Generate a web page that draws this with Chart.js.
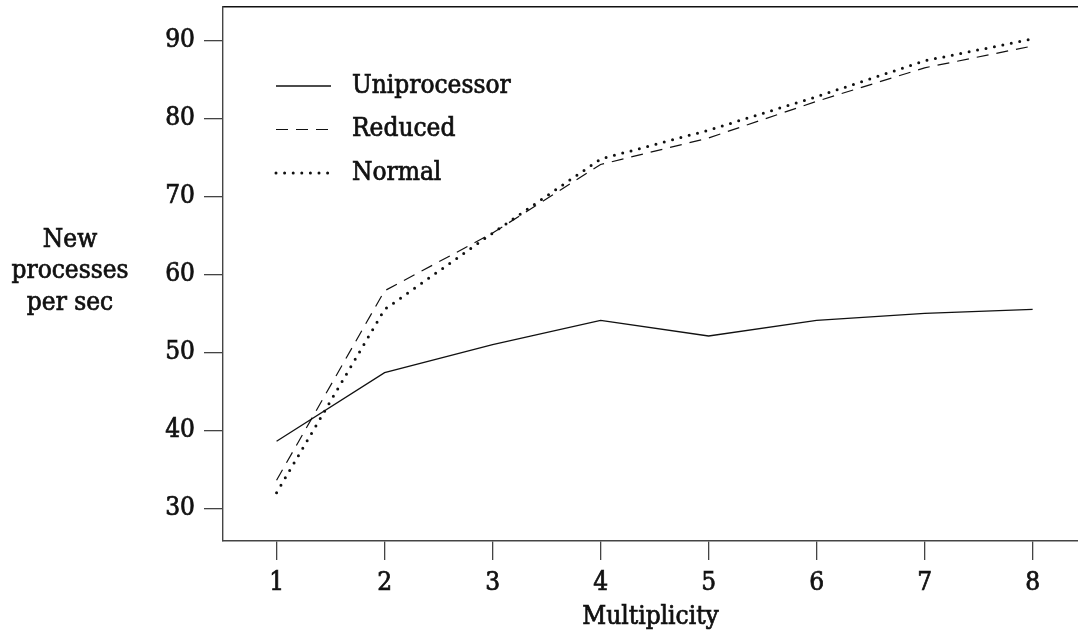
<!DOCTYPE html>
<html>
<head>
<meta charset="utf-8">
<script src="https://cdn.jsdelivr.net/npm/chart.js@4.4.1/dist/chart.umd.min.js"></script>
<style>
  html, body { margin: 0; padding: 0; background: #fff; }
  canvas { display: block; }
</style>
</head>
<body>
<canvas id="myChart" width="1078" height="636"></canvas>
<script>
const multiplicity = [1, 2, 3, 4, 5, 6, 7, 8];
const uniprocessor = [38.6, 47.4, 51.0, 54.1, 52.1, 54.1, 55.0, 55.5];
const reduced = [33.6, 57.9, 65.3, 74.1, 77.5, 82.2, 86.5, 89.3];
const normal = [32.0, 55.5, 65.3, 74.8, 78.5, 82.8, 87.4, 90.2];
const yTicks = [30, 40, 50, 60, 70, 80, 90];
const yTitleLines = ['New', 'processes', 'per sec'];
const xTitle = 'Multiplicity';

const FONT = "'DejaVu Serif Condensed', 'DejaVu Serif', serif";
const FSIZE = 26;
const STROKE = 0.7; // thickens the glyphs a little, the original face is heavier
const ink = '#111';
const axisColor = '#444';

const toPoints = arr => arr.map((v, i) => ({ x: multiplicity[i], y: v }));

// no extra room for half labels, the frame sits where the picture has it
const noPad = scale => {
  scale.paddingTop = 0;
  scale.paddingBottom = 0;
  scale.paddingLeft = 0;
  scale.paddingRight = 0;
};

const heavyText = (ctx, text, x, y) => {
  ctx.fillText(text, x, y);
  ctx.lineWidth = STROKE;
  ctx.strokeStyle = ink;
  ctx.strokeText(text, x, y);
};

// legend drawn inside the plot, top-left
const insideLegend = {
  id: 'insideLegend',
  afterDatasetsDraw(chart) {
    const { ctx, chartArea } = chart;
    ctx.save();
    chart.data.datasets.forEach((ds, i) => {
      const y = chartArea.top + 79 + i * 43.5;
      const x0 = chartArea.left + 53;
      ctx.beginPath();
      ctx.lineWidth = ds.borderWidth;
      ctx.strokeStyle = ds.borderColor;
      ctx.setLineDash(ds.borderDash || []);
      ctx.lineCap = ds.borderCapStyle || 'butt';
      ctx.moveTo(x0, y);
      ctx.lineTo(x0 + 55, y);
      ctx.stroke();
      ctx.setLineDash([]);
      ctx.lineCap = 'butt';
      ctx.fillStyle = ink;
      ctx.font = `${FSIZE}px ${FONT}`;
      ctx.textBaseline = 'middle';
      ctx.textAlign = 'left';
      heavyText(ctx, ds.label, x0 + 76, y);
    });
    ctx.restore();
  },
};

// axis titles: y one is horizontal, on three lines
const axisTitles = {
  id: 'axisTitles',
  afterDraw(chart) {
    const { ctx, chartArea } = chart;
    ctx.save();
    ctx.fillStyle = ink;
    ctx.font = `${FSIZE}px ${FONT}`;
    ctx.textAlign = 'center';
    ctx.textBaseline = 'middle';
    yTitleLines.forEach((line, i) => heavyText(ctx, line, 70, 240 + i * 31.5));
    heavyText(ctx, xTitle, (chartArea.left + chartArea.right) / 2, chartArea.bottom + 76);
    ctx.restore();
  },
};

const tickStyle = {
  color: ink,
  font: { family: FONT, size: FSIZE },
  textStrokeColor: ink,
  textStrokeWidth: STROKE,
};

new Chart(document.getElementById('myChart'), {
  type: 'line',
  data: {
    datasets: [
      {
        label: 'Uniprocessor',
        data: toPoints(uniprocessor),
        borderColor: ink,
        borderWidth: 1.3,
        pointRadius: 0,
        tension: 0,
      },
      {
        label: 'Reduced',
        data: toPoints(reduced),
        borderColor: ink,
        borderWidth: 1.2,
        borderDash: [12, 8],
        pointRadius: 0,
        tension: 0,
      },
      {
        label: 'Normal',
        data: toPoints(normal),
        borderColor: ink,
        borderWidth: 3,
        borderDash: [0, 8.6],
        borderCapStyle: 'round',
        pointRadius: 0,
        tension: 0,
      },
    ],
  },
  options: {
    responsive: false,
    animation: false,
    layout: { padding: { top: 7, right: 0, left: 0, bottom: 0 } },
    plugins: {
      legend: { display: false },
      tooltip: { enabled: false },
    },
    scales: {
      x: {
        type: 'linear',
        min: 0.504,
        max: 8.42,
        afterBuildTicks: scale => {
          scale.ticks = multiplicity.map(v => ({ value: v }));
        },
        afterFit: scale => {
          scale.height = 95;
          noPad(scale);
        },
        grid: {
          drawOnChartArea: false,
          drawTicks: true,
          tickLength: 19,
          color: axisColor,
          lineWidth: 1.3,
        },
        border: { color: axisColor, width: 1.4 },
        ticks: { ...tickStyle, padding: 8, maxRotation: 0 },
      },
      xTop: {
        type: 'linear',
        position: 'top',
        min: 0.504,
        max: 8.42,
        afterFit: scale => {
          scale.height = 0;
          noPad(scale);
        },
        grid: { display: false },
        ticks: { display: false },
        border: { display: true, color: ink, width: 1.4 },
      },
      y: {
        min: 25.8,
        max: 94.3,
        afterBuildTicks: scale => {
          scale.ticks = yTicks.map(v => ({ value: v }));
        },
        afterFit: scale => {
          scale.width = 223;
          noPad(scale);
        },
        grid: {
          drawOnChartArea: false,
          drawTicks: true,
          tickLength: 19,
          color: axisColor,
          lineWidth: 1.3,
        },
        border: { color: axisColor, width: 1.4 },
        ticks: { ...tickStyle, padding: 9 },
      },
    },
  },
  plugins: [insideLegend, axisTitles],
});
</script>
</body>
</html>
